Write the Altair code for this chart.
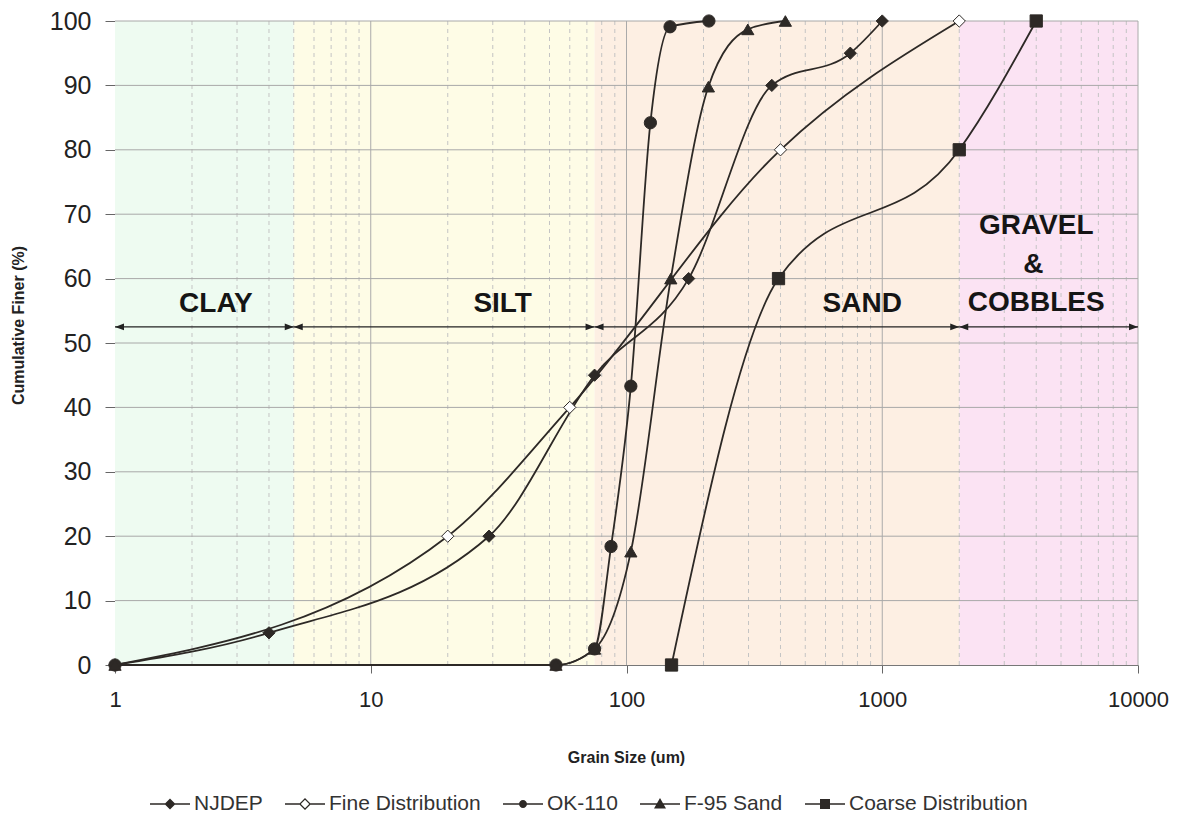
import altair as alt
import pandas as pd

# ---------------- data ----------------
series_names = ["NJDEP", "Fine Distribution", "OK-110", "F-95 Sand", "Coarse Distribution"]

njdep_size = [1, 4, 29, 75, 175, 370, 750, 1000]
njdep_pct = [0, 5, 20, 45, 60, 90, 95, 100]

fine_size = [1, 20, 60, 400, 2000]
fine_pct = [0, 20, 40, 80, 100]

ok110_size = [1, 53, 75, 87, 104, 124, 148, 210]
ok110_pct = [0, 0, 2.5, 18.4, 43.3, 84.2, 99.1, 100]

f95_size = [1, 53, 75, 104, 149, 209, 298, 418]
f95_pct = [0, 0, 2.5, 17.6, 60, 89.8, 98.7, 100]

coarse_size = [150, 393, 2000, 4000]
coarse_pct = [0, 60, 80, 100]

region_names = ["CLAY", "SILT", "SAND", "GRAVEL & COBBLES"]
region_start = [1, 5, 75, 2000]
region_end = [5, 75, 2000, 10000]
region_colors = ["#eefbf1", "#fefce6", "#fdefe3", "#fbe3f3"]

label_text = ["CLAY", "SILT", "SAND", "GRAVEL", "&", "COBBLES"]
label_x = [2.48, 32.8, 835, 4000, 3900, 4000]
label_y = [56.0, 56.0, 56.0, 68.2, 62.1, 56.2]
arrow_level = 52.5

y_grid_values = [10, 20, 30, 40, 50, 60, 70, 80, 90, 100]
x_major_values = [10, 100, 1000, 10000]
x_minor_values = [2, 3, 4, 5, 6, 7, 8, 9,
                  20, 30, 40, 50, 60, 70, 80, 90,
                  200, 300, 400, 500, 600, 700, 800, 900,
                  2000, 3000, 4000, 5000, 6000, 7000, 8000, 9000]
x_tick_values = [1, 10, 100, 1000, 10000]
y_tick_values = [0, 10, 20, 30, 40, 50, 60, 70, 80, 90, 100]

# ---------------- tables ----------------
rows = []
for name, xs, ys in [
    ("NJDEP", njdep_size, njdep_pct),
    ("Fine Distribution", fine_size, fine_pct),
    ("OK-110", ok110_size, ok110_pct),
    ("F-95 Sand", f95_size, f95_pct),
    ("Coarse Distribution", coarse_size, coarse_pct),
]:
    for a, b in zip(xs, ys):
        rows.append({"series": name, "size": a, "pct": b})
df = pd.DataFrame(rows)

regions = pd.DataFrame({"name": region_names, "start": region_start,
                        "end": region_end, "color": region_colors})
labels = pd.DataFrame({"text": label_text, "x": label_x, "y": label_y})
ygrid = pd.DataFrame({"v": y_grid_values})
xmajor = pd.DataFrame({"v": x_major_values})
xminor = pd.DataFrame({"v": x_minor_values})
legend_df = pd.DataFrame({"series": series_names})

DARK = "#2d2926"
FONT = "Liberation Sans"

xscale = alt.Scale(type="log", domain=[1, 10000], nice=False)
yscale = alt.Scale(domain=[0, 100], nice=False, zero=False)

xaxis = alt.Axis(values=x_tick_values, format="d", grid=False, title="Grain Size (um)",
                 titleFont=FONT, titleFontSize=16, titleFontWeight="bold", titleColor="#222",
                 titleX=511, titleY=92, titleBaseline="middle",
                 labelFont=FONT, labelFontSize=22, labelColor="#222", labelPadding=16,
                 tickSize=8, tickColor="#666", domainColor="#777", labelFlush=False)
yaxis = alt.Axis(values=y_tick_values, grid=False, title="Cumulative Finer (%)",
                 titleFont=FONT, titleFontSize=16, titleFontWeight="bold", titleColor="#222",
                 titleAngle=-90, titleX=-97, titleY=304, titleBaseline="middle", titleAlign="center",
                 labelFont=FONT, labelFontSize=25, labelColor="#222", labelPadding=14,
                 tickSize=10, tickColor="#666", domainColor="#666")


def X(field):
    return alt.X(field, type="quantitative", scale=xscale, axis=xaxis)


def Y(field):
    return alt.Y(field, type="quantitative", scale=yscale, axis=yaxis)


background = alt.Chart(regions).mark_rect().encode(
    x=X("start"), x2="end",
    y=alt.YDatum(0, scale=yscale, axis=yaxis), y2=alt.Y2Datum(100),
    fill=alt.Fill("color:N", scale=None),
)

minor_grid = alt.Chart(xminor).mark_rule(color="#c4c4c4", strokeDash=[4, 4], strokeWidth=1).encode(
    x=X("v"))
major_grid = alt.Chart(xmajor).mark_rule(color="#aaaaaa", strokeWidth=1).encode(x=X("v"))
h_grid = alt.Chart(ygrid).mark_rule(color="#a8a8a8", strokeWidth=1).encode(y=Y("v"))

arrow_lines = alt.Chart(regions).mark_rule(color="#222", strokeWidth=1.3).encode(
    x=X("start"), x2="end", y=alt.YDatum(arrow_level, scale=yscale, axis=yaxis))
arrow_left = alt.Chart(regions).mark_point(filled=True, color="#222", opacity=1).encode(
    x=X("start"), y=alt.YDatum(arrow_level, scale=yscale, axis=yaxis),
    shape=alt.value("M0,0L1,-0.38L1,0.38Z"), size=alt.value(324))
arrow_right = alt.Chart(regions).mark_point(filled=True, color="#222", opacity=1).encode(
    x=X("end"), y=alt.YDatum(arrow_level, scale=yscale, axis=yaxis),
    shape=alt.value("M0,0L-1,-0.38L-1,0.38Z"), size=alt.value(324))

region_text = alt.Chart(labels).mark_text(font=FONT, fontSize=28, fontWeight="bold",
                                           color="#151515", baseline="middle", align="center").encode(
    x=X("x"), y=Y("y"), text="text:N")

lines = alt.Chart(df).mark_line(interpolate="monotone", color=DARK, strokeWidth=1.8).encode(
    x=X("size"), y=Y("pct"), detail="series:N", order="size:Q")

fill_range = [DARK, "#ffffff", DARK, DARK, DARK]
points = alt.Chart(df).mark_point(filled=True, stroke=DARK, strokeWidth=1, opacity=1).encode(
    x=X("size"), y=Y("pct"),
    shape=alt.Shape("series:N", scale=alt.Scale(domain=series_names,
                    range=["diamond", "diamond", "circle", "triangle-up", "square"]), legend=None),
    fill=alt.Fill("series:N", scale=alt.Scale(domain=series_names, range=fill_range), legend=None),
    size=alt.Size("series:N", scale=alt.Scale(domain=series_names, range=[150, 150, 55, 150, 190]),
                  legend=None),
)

# legend symbols: line + marker drawn as filled paths (unit = 10 px)
BAR = "M-2,-0.08H2V0.08H-2Z"
legend_paths = [
    BAR + "M0,-0.55L0.55,0L0,0.55L-0.55,0Z",
    "M-2,-0.08H-0.55V0.08H-2ZM0.55,-0.08H2V0.08H0.55Z"
    "M0,-0.6L0.6,0L0,0.6L-0.6,0ZM0,-0.42L-0.42,0L0,0.42L0.42,0Z",
    BAR + "M0.4,0A0.4,0.4,0,1,1,-0.4,0A0.4,0.4,0,1,1,0.4,0Z",
    BAR + "M0,-0.6L0.6,0.45L-0.6,0.45Z",
    BAR + "M-0.5,-0.5H0.5V0.5H-0.5Z",
]
leg = alt.Legend(title=None, orient="none", direction="horizontal", legendX=44, legendY=772,
                 labelFont=FONT, labelFontSize=21, labelColor="#333", labelOffset=13,
                 labelLimit=400, columnPadding=19, padding=0, symbolSize=400)
legend_layer = alt.Chart(legend_df).transform_filter("false").mark_point(
    filled=True, color=DARK, size=400, opacity=1, strokeWidth=0).encode(
    shape=alt.Shape("series:N", scale=alt.Scale(domain=series_names, range=legend_paths), legend=leg),
)

chart = alt.layer(
    background, minor_grid, major_grid, h_grid, arrow_lines, arrow_left, arrow_right,
    region_text, lines, points, legend_layer
).resolve_scale(
    shape="independent", fill="independent", size="independent"
).properties(
    width=1023, height=644,
    autosize=alt.AutoSizeParams(type="none"),
    padding={"left": 107, "top": 13, "right": 43, "bottom": 148},
    background="white",
).configure_view(strokeWidth=0)

chart.save("out.html", embed_options={"renderer": "svg", "actions": False})
